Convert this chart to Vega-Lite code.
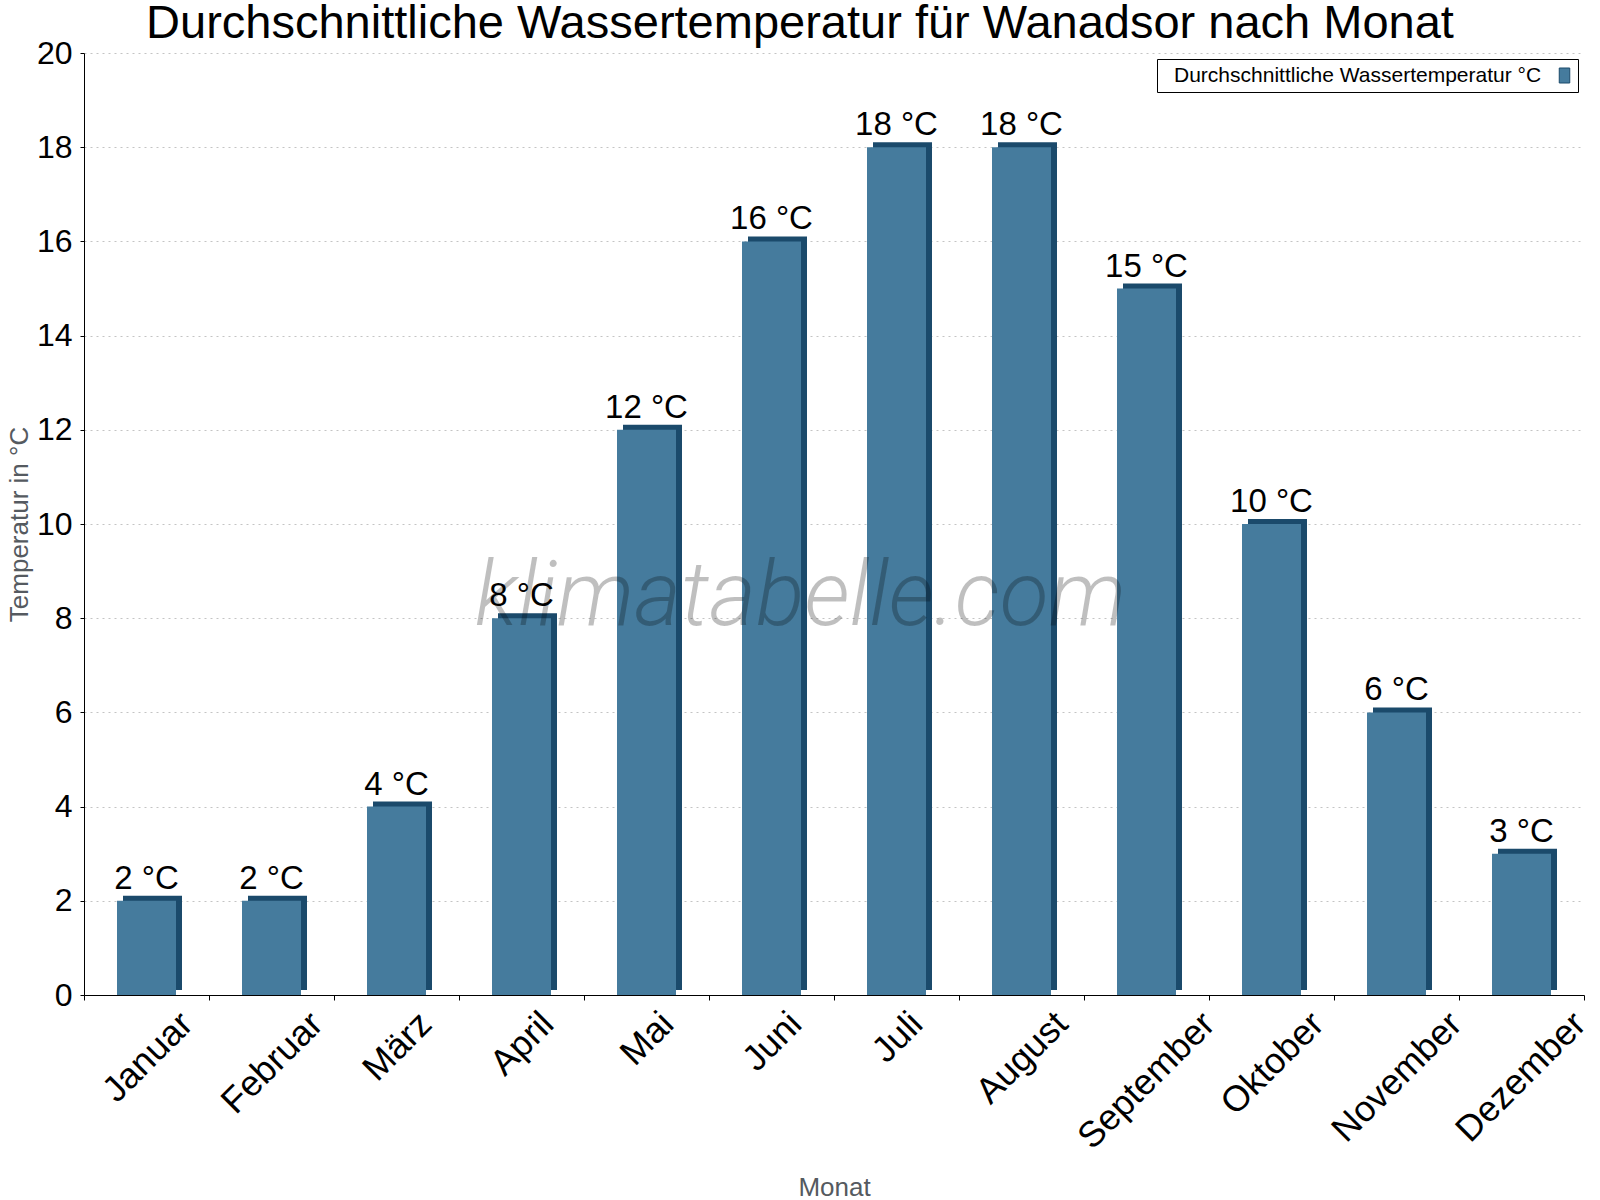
{
  "$schema": "https://vega.github.io/schema/vega-lite/v6.json",
  "width": 1500,
  "height": 942,
  "autosize": {"type": "none"},
  "padding": {"left": 84, "top": 53, "right": 16, "bottom": 205},
  "background": "white",
  "config": {"view": {"stroke": null}, "font": "Liberation Sans"},
  "title": {
    "text": "Durchschnittliche Wassertemperatur für Wanadsor nach Monat",
    "font": "Liberation Sans",
    "fontSize": 47,
    "fontWeight": "normal",
    "color": "#000000",
    "anchor": "middle",
    "frame": "group",
    "dx": -34,
    "baseline": "alphabetic",
    "offset": -48
  },
  "data": {
    "values": [
      {"month": "Januar", "temp": 2, "label": "2 °C"},
      {"month": "Februar", "temp": 2, "label": "2 °C"},
      {"month": "März", "temp": 4, "label": "4 °C"},
      {"month": "April", "temp": 8, "label": "8 °C"},
      {"month": "Mai", "temp": 12, "label": "12 °C"},
      {"month": "Juni", "temp": 16, "label": "16 °C"},
      {"month": "Juli", "temp": 18, "label": "18 °C"},
      {"month": "August", "temp": 18, "label": "18 °C"},
      {"month": "September", "temp": 15, "label": "15 °C"},
      {"month": "Oktober", "temp": 10, "label": "10 °C"},
      {"month": "November", "temp": 6, "label": "6 °C"},
      {"month": "Dezember", "temp": 3, "label": "3 °C"}
    ]
  },
  "encoding": {
    "x": {
      "field": "month",
      "type": "nominal",
      "sort": null,
      "scale": {"paddingInner": 0, "paddingOuter": 0},
      "axis": {
        "title": "Monat",
        "titleFont": "Liberation Sans",
        "titleFontSize": 26,
        "titleFontWeight": "normal",
        "titleColor": "#555a60",
        "titleY": 200,
        "titleBaseline": "alphabetic",
        "labelAngle": -45,
        "labelAlign": "right",
        "labelBaseline": "middle",
        "labelFont": "Liberation Sans",
        "labelFontSize": 36,
        "labelColor": "#000000",
        "labelPadding": 18,
        "labelOffset": {
          "condition": [
            {"test": "datum.value === 'Januar'", "value": 40},
            {"test": "datum.value === 'Februar'", "value": 45},
            {"test": "datum.value === 'März'", "value": 29},
            {"test": "datum.value === 'April'", "value": 26},
            {"test": "datum.value === 'Mai'", "value": 21},
            {"test": "datum.value === 'Juni'", "value": 24},
            {"test": "datum.value === 'Juli'", "value": 20},
            {"test": "datum.value === 'August'", "value": 40},
            {"test": "datum.value === 'September'", "value": 62},
            {"test": "datum.value === 'Oktober'", "value": 46},
            {"test": "datum.value === 'November'", "value": 59}
          ],
          "value": 58
        },
        "labelOverlap": false,
        "labelBound": false,
        "labelFlush": false,
        "tickBand": "extent",
        "tickSize": 5,
        "tickColor": "#000000",
        "domainColor": "#000000",
        "grid": false
      }
    },
    "y": {
      "field": "temp",
      "type": "quantitative",
      "scale": {"domain": [0, 20], "nice": false},
      "axis": {
        "title": "Temperatur in °C",
        "titleFont": "Liberation Sans",
        "titleFontSize": 26,
        "titleFontWeight": "normal",
        "titleColor": "#555a60",
        "titleX": -57,
        "titleBaseline": "alphabetic",
        "values": [0, 2, 4, 6, 8, 10, 12, 14, 16, 18, 20],
        "labelFont": "Liberation Sans",
        "labelFontSize": 32,
        "labelColor": "#000000",
        "labelPadding": 8,
        "tickSize": 4,
        "tickColor": "#000000",
        "domainColor": "#000000",
        "grid": true,
        "gridColor": "#c4c4c4",
        "gridDash": [2, 4],
        "labelOverlap": false
      }
    }
  },
  "layer": [
    {
      "mark": {"type": "bar", "size": 59, "xOffset": 6, "yOffset": -5, "y2Offset": -5, "color": "#1b4a6b"}
    },
    {
      "mark": {"type": "bar", "size": 59},
      "encoding": {
        "fill": {
          "datum": "Durchschnittliche Wassertemperatur °C",
          "type": "nominal",
          "scale": {"range": ["#457b9d"]},
          "legend": {
            "orient": "none",
            "legendX": 1073,
            "legendY": 6,
            "title": null,
            "labelFont": "Liberation Sans",
            "labelFontSize": 21,
            "labelColor": "#000000",
            "labelLimit": 0,
            "symbolType": "M-0.7,-1H0.7V1H-0.7Z",
            "symbolSize": 225,
            "symbolStrokeColor": "#1b4a6b",
            "symbolStrokeWidth": 1,
            "symbolOpacity": 1,
            "symbolOffset": 391,
            "labelOffset": -401,
            "padding": 6,
            "strokeColor": "#000000",
            "fillColor": "#ffffff",
            "cornerRadius": 0
          }
        }
      }
    },
    {
      "transform": [{"filter": "datum.month === 'Juni'"}],
      "mark": {
        "type": "text",
        "font": "Roboto",
        "fontStyle": "italic",
        "fontWeight": 300,
        "fontSize": 90,
        "fill": "#000000",
        "fillOpacity": 0.25,
        "xOffset": 29,
        "baseline": "alphabetic",
        "align": "center"
      },
      "encoding": {
        "y": {"datum": 7.85, "type": "quantitative"},
        "text": {"datum": "klimatabelle.com"}
      }
    },
    {
      "mark": {"type": "text", "font": "Liberation Sans", "fontSize": 33, "dy": -12, "baseline": "alphabetic", "color": "#000000"},
      "encoding": {"text": {"field": "label"}}
    }
  ]
}
